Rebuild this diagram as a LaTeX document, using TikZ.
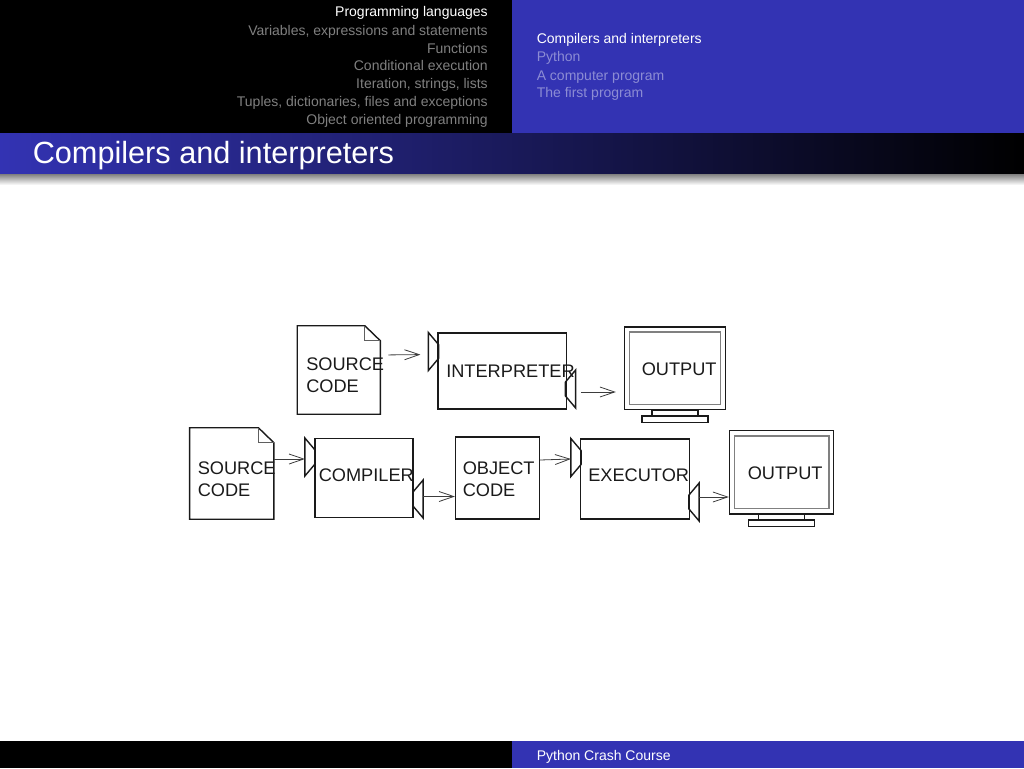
\documentclass[tikz,border=0pt]{standalone}
\usepackage{fontspec}
\setmainfont{Liberation Sans}
\usepackage{xcolor}
\usetikzlibrary{arrows.meta,calc}
\definecolor{barblue}{HTML}{3333B3}
\definecolor{secgrey}{HTML}{808080}
\definecolor{subblue}{HTML}{8C8CD4}
\definecolor{inkgrey}{HTML}{1A1A1A}
\definecolor{screengrey}{HTML}{808080}

\begin{document}
\begin{tikzpicture}[
    x=0.75pt, y=-0.75pt,
    every node/.style={font=\fontsize{10.5}{12}\selectfont, inner sep=0pt},
    seclab/.style={anchor=base east, text=secgrey},
    sublab/.style={anchor=base west, text=subblue},
    lab/.style={anchor=base west, text=inkgrey, font=\fontsize{13.65}{16.6}\selectfont},
    twolab/.style={lab, anchor=west, align=left},
    boxnode/.style={draw=inkgrey, line width=1.05pt, rectangle},
    ghost/.style={rectangle},
    portnode/.style={rectangle, minimum width=7.2pt, minimum height=28pt},
    outline/.style={draw=inkgrey, line width=1.05pt},
    flow/.style={-{Straight Barb[length=11pt,width=7.5pt]}, inkgrey!85, line width=0.6pt}
  ]
  \useasboundingbox (0,0) rectangle (1024,768);

  % --- bars at top and bottom -----------------------------------------------
  \fill[black] (0,0) rectangle (512,133);
  \fill[barblue] (512,0) rectangle (1024,133);
  \shade[left color=barblue, right color=black] (0,133) rectangle (1024,174);
  \shade[top color=black!50, bottom color=white] (0,174) rectangle (1024,185);
  \fill[black] (0,741) rectangle (512,768);
  \fill[barblue] (512,741) rectangle (1024,768);

  \node[seclab, text=white] (sec0) at (488,16.5) {Programming languages};
  \foreach \n/\yy/\lab in {1/35.5/{Variables, expressions and statements}, 2/53/{Functions},
      3/70.5/{Conditional execution}, 4/88/{Iteration, strings, lists},
      5/106/{Tuples, dictionaries, files and exceptions}, 6/124/{Object oriented programming}}
    {\node[seclab] (sec\n) at (488,\yy) {\lab};}

  \node[sublab, text=white] (sub0) at (536.5,43.5) {Compilers and interpreters};
  \foreach \n/\yy/\lab in {1/61/{Python}, 2/80/{A computer program}, 3/97.5/{The first program}}
    {\node[sublab] (sub\n) at (536.5,\yy) {\lab};}

  \node[anchor=base west, text=white, font=\fontsize{23}{25}\selectfont] (frametitle) at (32.5,163.5) {Compilers and interpreters};
  \node[sublab, text=white] (foot) at (536.5,760) {Python Crash Course};

  % --- upper row ------------------------------------------------------------
  \node[ghost, minimum width=61.9pt, minimum height=66pt] (srcA) at (338.8,370) {};
  \node[boxnode, minimum width=96.4pt, minimum height=57pt] (interp) at (502.2,371) {};
  \node[portnode] (inA) at (433.5,351.5) {};
  \node[portnode] (outA) at (570.5,389) {};
  \node[boxnode, minimum width=75.7pt, minimum height=62pt] (monA) at (675,368.3) {};

  % --- lower row ------------------------------------------------------------
  \node[ghost, minimum width=62.8pt, minimum height=68.2pt] (srcB) at (231.8,473.5) {};
  \node[boxnode, minimum width=73.5pt, minimum height=59.5pt] (comp) at (364,478) {};
  \node[portnode] (inB) at (310,457) {};
  \node[portnode] (outB) at (418,499) {};
  \node[boxnode, minimum width=62.8pt, minimum height=61.5pt] (obj) at (497.5,478) {};
  \node[boxnode, minimum width=81.8pt, minimum height=60pt] (exec) at (635.2,479) {};
  \node[portnode] (inC) at (576,457.5) {};
  \node[portnode] (outC) at (694,502) {};
  \node[boxnode, minimum width=78pt, minimum height=62.6pt] (monB) at (781.5,472.2) {};

  % --- the ports, the folded sheets and the stands of the screens -----------
  \foreach \n in {inA,inB,inC}
    {\draw[outline] (\n.north west) -- ($(\n.north east)+(0,12)$) -- ($(\n.south east)+(0,-12)$) -- (\n.south west) -- cycle;}
  \foreach \n in {outA,outB,outC}
    {\draw[outline] (\n.north east) -- ($(\n.north west)+(0,12)$) -- ($(\n.south west)+(0,-12)$) -- (\n.south east) -- cycle;}
  \foreach \n in {srcA,srcB} {
    \draw[outline] (\n.north west) -- ($(\n.north east)+(-15.5,0)$)
      -- ($(\n.north east)+(0,15)$) -- (\n.south east) -- (\n.south west) -- cycle;
    \draw[inkgrey!70, line width=0.7pt] ($(\n.north east)+(-15.5,0)$) |- ($(\n.north east)+(0,15)$);
  }
  \foreach \n in {monA,monB} {
    \draw[screengrey, line width=1.2pt] ($(\n.north west)+(5.5,6)$) rectangle ($(\n.south east)+(-5.5,-6)$);
    \draw[outline] ($(\n.south)+(-23,0)$) rectangle ($(\n.south)+(23,5.5)$);
    \draw[outline] ($(\n.south)+(-33,5.5)$) rectangle ($(\n.south)+(33,12)$);
  }

  % --- labels, wider than some of their boxes -------------------------------
  \node[twolab] (srcAlab) at (306,375.5) {SOURCE\\CODE};
  \node[twolab] (srcBlab) at (197.5,479) {SOURCE\\CODE};
  \node[twolab] (objlab) at (462.5,479) {OBJECT\\CODE};
  \node[lab] (interplab) at (446,377.5) {INTERPRETER};
  \node[lab] (complab) at (318.5,481) {COMPILER};
  \node[lab] (execlab) at (588,481.5) {EXECUTOR};
  \node[lab] (monAlab) at (641.5,375) {OUTPUT};
  \node[lab] (monBlab) at (747.5,479) {OUTPUT};

  % --- connectors -----------------------------------------------------------
  \draw[flow, shorten <=6pt, shorten >=6pt] ($(srcA.east)+(0,-15)$) -- ($(inA.west)+(0,3)$);
  \draw[flow, shorten >=6pt, shorten <=4pt] (outA.east |- 0,392) -- (monA.west |- 0,392);
  \draw[flow] ($(srcB.east)+(0,-14.5)$) -- ($(inB.west)+(0,2)$);
  \draw[flow] (outB.east |- 0,496.5) -- (obj.west |- 0,496.5);
  \draw[flow] ($(obj.east)+(0,-18)$) -- ($(inC.west)+(0,1.5)$);
  \draw[flow] (outC.east |- 0,497) -- (monB.west |- 0,497);

\end{tikzpicture}
\end{document}
